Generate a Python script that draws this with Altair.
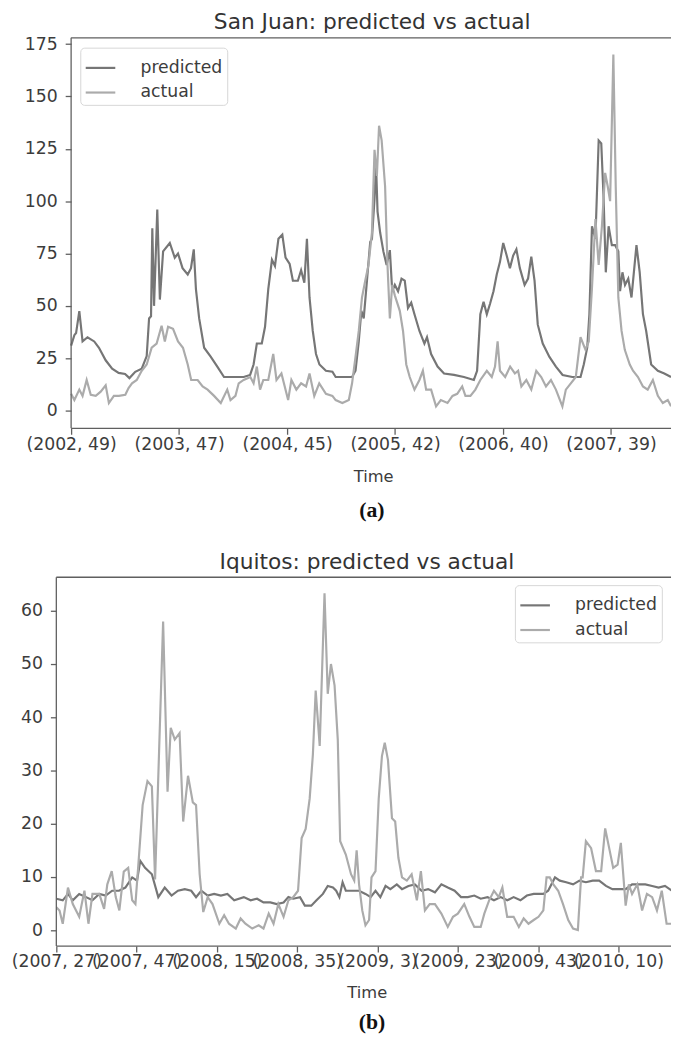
import altair as alt
import pandas as pd

# ---------------- San Juan (panel a) ----------------
sj_tick_weeks = [0, 50, 100, 150, 200, 250]
sj_tick_labels = ["(2002, 49)", "(2003, 47)", "(2004, 45)", "(2005, 42)", "(2006, 40)", "(2007, 39)"]

sj_pred_week = [0, 1.5, 2.3, 3.8, 5.3, 7.6, 10.7, 12.9, 16, 19, 22, 25, 27, 29.7, 32.7, 35, 36.1, 37, 37.6, 38.4,
                39.9, 41.1, 42.6, 45.7, 48, 49.5, 51.6, 54, 55.5, 56.8, 57.8, 59.3, 61.6, 64.7, 67.7, 70.8, 73.8,
                76.9, 79.9, 82.9, 84.5, 86, 88.3, 89.8, 91.3, 93, 94.4, 96, 97.8, 99.3, 101.2, 102.7, 105, 106.5,
                108, 109.2, 110.4, 111.9, 113.4, 115, 118, 121, 122.5, 127.1, 130.1, 131.7, 133.2, 134.4, 135.5,
                137, 138.5, 139.3, 140.5, 141.2, 141.9, 143.1, 144.6, 146.1, 147.6, 148.7, 149.9, 151.4, 153,
                154.5, 156, 157.5, 159, 161.3, 163.6, 164.8, 166.7, 169.7, 172.7, 177.3, 181.9, 186.5, 188, 189.5,
                191, 192.5, 194, 195.6, 197.1, 198.6, 200.1, 201.7, 203.2, 204.7, 206.2, 207.8, 210, 211.6, 213.1,
                214.6, 216.1, 218.4, 221.5, 224.5, 227.6, 232.1, 235.9, 237.4, 239, 240, 241.2, 242.8, 244.3,
                245.5, 246.6, 247.6, 248.9, 250.4, 251.9, 253.4, 254.2, 255.3, 256.5, 258, 259.5, 261.8, 263.3,
                264.8, 266.3, 268.6, 271.7, 274.7, 277.8]
sj_pred_value = [31, 36, 37, 47.5, 33, 35, 33, 30, 24, 20, 18, 17.5, 15.5, 18.5, 20, 26, 44, 45, 87, 50,
                 96, 53, 76, 80, 73, 75, 68, 65, 68, 77, 58, 44, 30, 25.6, 21, 16, 16,
                 16, 16, 17, 22, 32, 32, 40, 58, 72, 69, 82, 84, 73, 70, 62, 62, 67,
                 61, 82, 54, 38, 27, 22, 19, 18.5, 16, 16, 16, 19, 33, 47.6, 44,
                 62, 80.5, 82, 101, 118, 95, 85, 76, 69.5, 76.6, 57, 60, 57, 63,
                 62, 49, 51.5, 46, 38, 32, 35, 27, 21, 17.7, 17, 16, 14.6, 19, 46,
                 52, 46, 51, 57, 65, 71, 80, 74, 68, 74, 77, 68, 60, 63, 73.5,
                 62, 41, 32, 25.6, 21, 17, 16, 16, 22, 30, 46, 88, 82, 129,
                 127.6, 101, 66, 88, 79, 79, 76, 57, 66, 60, 63, 54, 79, 66,
                 46, 38, 22, 19, 17.7, 16]

sj_act_week = [0, 1.5, 3.8, 5.3, 7.2, 9.1, 11.4, 13.7, 16, 17.5, 19.8, 22.1, 25.1, 26.6, 28.2, 30.4, 32.7, 35,
               37.3, 39.6, 41.9, 43.4, 44.9, 47.2, 49.5, 51.8, 54, 55.6, 58.6, 60.9, 63.2, 66.2, 69.3, 72.3, 73.8,
               76.1, 77.6, 79.9, 83, 84.5, 86, 87.5, 89, 91.3, 93.6, 95.1, 97.4, 100.5, 102, 104.3, 106.5, 108.8,
               110.4, 112.6, 114.9, 118, 121, 122.5, 125.6, 128.6, 130.1, 131.7, 133.2, 134.7, 136.2, 137.7, 139.3,
               140.5, 141.6, 142.6, 143.8, 145.4, 146.5, 147.6, 148.7, 149.9, 152.2, 153.7, 155.2, 156.8, 159,
               161.3, 162.9, 164.4, 166.7, 169, 171.2, 174.3, 176.6, 178.8, 181.1, 182.6, 184.9, 187.2, 189.5,
               192.5, 194.8, 196.3, 197.5, 198.6, 201, 203.3, 205.5, 207, 208.5, 210.8, 213.1, 215.4, 217.7,
               219.9, 222.2, 224.5, 227.5, 229.1, 231.4, 233.7, 235.9, 238.2, 239.7, 241.2, 242.8, 244.3, 245.8,
               247.3, 248.5, 249.6, 251.1, 252.2, 253.4, 254.9, 256.4, 258.7, 260.2, 262.5, 264.8, 267, 269.4,
               271.7, 274, 276.3, 277.8]
sj_act_value = [8, 5, 10, 7, 14.6, 7.5, 7, 9, 12, 3.6, 7, 7, 7.5, 10.7, 13, 14.6, 19, 22,
                30, 32, 40.5, 33, 40, 39, 33, 30, 22, 14.6, 14.6, 11.5, 10, 7, 3.6, 10, 5,
                7, 13, 14.6, 16, 13, 21, 10, 14.6, 14.6, 27, 14.6, 17.7, 5, 14.6, 10, 13, 11.5,
                17.7, 7, 13, 8, 7, 5, 3.6, 5, 13, 25.6, 38, 54, 62, 69.5, 85,
                124.5, 112, 136, 129, 107, 69.5, 44, 60, 55, 47.6, 38, 22, 16, 10,
                14.6, 19, 10, 10, 2, 5, 3.6, 7, 8, 11.5, 7, 7, 10, 14.6,
                19, 16, 21, 33, 19, 16, 21, 17.7, 19, 11.5, 14.6, 10, 19, 16,
                11.5, 14.6, 10, 2, 10, 13, 16, 35, 29, 33, 58.5, 91.5, 69.5, 88,
                113.5, 107, 100, 170, 107, 54, 38, 29, 22, 19, 16, 11.5, 10, 14.6,
                7, 3.6, 5, 2]

# ---------------- Iquitos (panel b) ----------------
iq_tick_weeks = [0, 20, 40, 60, 80, 100, 120, 140]
iq_tick_labels = ["(2007, 27)", "(2007, 47)", "(2008, 15)", "(2008, 35)", "(2009, 3)", "(2009, 23)", "(2009, 43)", "(2010, 10)"]

iq_pred_week = [0, 1.6, 2.9, 4.1, 5.7, 7.4, 9, 10.7, 12.3, 13.9, 15.6, 17.2, 18.9, 20.1, 20.9, 22.1, 23.8, 25.4,
                27, 28.7, 30.3, 32, 33.6, 34.8, 36.1, 37.7, 39.3, 41, 42.6, 44.3, 46.7, 48.4, 50, 51.6, 53.3, 54.9,
                56.6, 57.8, 59, 60.7, 61.9, 63.5, 64.8, 66.4, 67.6, 68.9, 69.7, 70.5, 71.3, 72.1, 73.8, 75.4, 77,
                78.3, 79.5, 80.7, 82, 83.2, 84.8, 86.1, 87.7, 89.3, 91, 92.6, 94.3, 95.9, 97.5, 99.2, 100.8, 102.5,
                104.1, 105.7, 107.4, 109, 110.7, 112.3, 113.9, 115.6, 117.2, 118.9, 121.3, 122.5, 124.2, 125.4, 127,
                128.7, 130.3, 131.9, 133.6, 135.2, 136.9, 138.5, 140.2, 141.8, 143.4, 145.1, 146.7, 148.4, 150,
                151.6, 153.3]
iq_pred_value = [5.9, 5.6, 6.8, 5.6, 6.8, 6.2, 5.6, 6.8, 6.5, 7.4, 7.4, 8, 9.9, 9.3, 13, 11.7, 10.5, 6.2,
                 8, 6.5, 7.4, 7.7, 7.4, 6.2, 7.4, 6.5, 6.8, 6.5, 6.8, 5.6, 6.2, 5.6, 5.9, 5.2, 5.2, 4.9,
                 5.2, 6.2, 5.9, 6.2, 4.6, 4.6, 5.6, 6.8, 8.3, 8, 7.4, 6.2, 9, 7.4, 7.4, 7.4, 6.8,
                 6.2, 7.4, 6.2, 8.3, 7.7, 8.6, 7.7, 8.3, 8.6, 7.4, 7.7, 7.1, 8.6, 8, 7.4, 6.2, 6.2,
                 6.5, 5.9, 6.2, 5.6, 6.2, 5.6, 6.2, 5.6, 6.5, 6.8, 6.8, 7.4, 9.9, 9.3, 9,
                 8.6, 9.3, 9, 9.3, 9.3, 8.3, 7.7, 7.7, 7.7, 8.6, 8.6, 8.6, 8.3, 8,
                 8.3, 7.4]

iq_act_week = [0, 0.8, 1.6, 2.9, 4.1, 5.7, 7, 8, 9, 10.7, 11.9, 12.7, 13.8, 14.8, 15.7, 16.8, 17.9, 18.9, 19.7,
               20.5, 21.5, 22.7, 23.8, 24.6, 26.6, 27.7, 28.5, 29.5, 30.7, 31.6, 32.8, 34, 34.8, 35.7, 36.6, 37.7,
               38.9, 40.6, 41.8, 43, 44.7, 45.9, 47.1, 48.8, 50.4, 51.6, 52.9, 54.1, 55.3, 56.6, 57.8, 59, 60.2,
               61.1, 62.1, 63.1, 63.9, 64.6, 65.6, 66.8, 67.6, 68.4, 69.3, 70.1, 70.7, 72.1, 73.4, 74.2, 74.8,
               75.4, 76.2, 77, 77.9, 78.5, 79.5, 80.3, 81.1, 81.8, 82.6, 83.6, 84.4, 85.2, 86.1, 87.3, 88.5, 89.8,
               90.8, 91.8, 93, 94.3, 95.9, 97.5, 98.8, 100, 101.6, 102.9, 104.1, 105.7, 106.6, 107.8, 109, 110.2,
               111.1, 112.3, 113.9, 115.2, 116.4, 117.6, 118.9, 120.1, 121.3, 122.1, 122.9, 123.8, 125, 126.2,
               127.5, 128.7, 129.9, 130.7, 131.1, 131.9, 133.2, 134.4, 135.7, 136.7, 137.7, 138.7, 139.8, 140.6,
               141.8, 142.6, 143.4, 144.7, 145.9, 147.1, 148.4, 149.6, 150.8, 152, 153.3]
iq_act_value = [4.3, 3.7, 1.2, 8, 4.9, 2.5, 7.4, 1.2, 6.8, 6.8, 4, 8.6, 11.1, 6.2, 3.7, 11, 11.7, 5.6, 4.9,
                13, 23.5, 28, 27, 9.5, 58, 26, 38, 35.8, 37, 20.4, 29, 24, 23.5, 10.5, 3.4, 6.2,
                4.9, 1.2, 2.8, 1.2, 0.3, 2.2, 1.2, 0.3, 0.9, 0.3, 3.1, 1.2, 4.9, 2.5, 5.6, 6.2, 7.4,
                17.3, 19, 24.7, 33, 45, 34.6, 63.3, 44.4, 50, 46, 35.8, 16.7, 14.2, 10.5, 9.3, 15,
                8.6, 3.7, 0.9, 1.9, 9.9, 11.1, 24.7, 32.7, 35.2, 32, 21, 20.4, 13.6, 9.9, 9.3, 10.5, 5.6,
                11.1, 3.7, 4.9, 4.9, 3.1, 0.6, 2.5, 3.1, 4.9, 2.5, 0.6, 0.6, 3.1, 5.6, 7.4, 6.2,
                8, 2.5, 2.5, 0.6, 2.2, 1.2, 1.9, 2.5, 3.7, 9.9, 9.9, 8.6, 7.4, 4.9,
                1.9, 0.3, 0, 9.9, 9.9, 16.7, 15.4, 11.1, 11.1, 19.1, 15.4, 11.7, 12.3, 16.4,
                4.6, 8.6, 6.8, 8.6, 3.7, 6.8, 6.2, 3.7, 7.4, 1.2, 1.2]

series_names = ["predicted", "actual"]
series_colors = ["#767676", "#ababab"]

FONT = "DejaVu Sans"
TXT = "#3c3c3c"
AX = "#5f5f5f"
PLOT_W = 623.3


def label_expr(weeks, labels):
    expr = "''"
    for w, l in reversed(list(zip(weeks, labels))):
        expr = f"datum.value == {w} ? '{l}' : ({expr})"
    return expr


def text_layer(text, x, y, font, size, weight, color):
    return alt.Chart(pd.DataFrame({"t": [text]})).mark_text(
        font=font, fontSize=size, fontWeight=weight, color=color, baseline="alphabetic", align="center"
    ).encode(text="t:N", x=alt.value(x), y=alt.value(y))


def panel(title, title_x, title_y, pred_w, pred_v, act_w, act_v, tick_w, tick_l,
          x_start, x_max, y_dom, y_ticks, height, y_offset, time_x, time_y,
          leg_x, leg_y, leg_row, caption, cap_y):
    pred = pd.DataFrame({"week": pred_w, "value": pred_v, "series": "predicted"})
    act = pd.DataFrame({"week": act_w, "value": act_v, "series": "actual"})
    frame = pd.DataFrame({"x0": [0], "x1": [x_max], "y0": [y_dom[0]], "y1": [y_dom[1]]})
    xscale = alt.Scale(domain=[0, x_max], range=[x_start, PLOT_W], nice=False, zero=False)
    yscale = alt.Scale(domain=y_dom, nice=False, zero=False)
    color = alt.Color(
        "series:N",
        scale=alt.Scale(domain=series_names, range=series_colors),
        legend=alt.Legend(
            title=None, orient="none", legendX=leg_x, legendY=leg_y,
            symbolType="stroke", symbolSize=900, symbolStrokeWidth=2.2,
            labelFontSize=17.5, labelFont=FONT, labelColor=TXT, labelOffset=24,
            fillColor="white", strokeColor="#d6d6d6", cornerRadius=4,
            padding=4, rowPadding=leg_row,
        ),
    )
    x_axis = alt.Axis(values=tick_w, labelExpr=label_expr(tick_w, tick_l), title=None,
                      domain=False, ticks=True, tickColor=AX, tickWidth=1.3,
                      labelOverlap=False, labelFlush=False, tickSize=6, labelPadding=1, grid=False)
    y_axis = alt.Axis(values=y_ticks, title=None, offset=y_offset, tickSize=6, labelPadding=8, grid=False,
                      domain=False, ticks=True, tickColor=AX, tickWidth=1.3)

    def X(f):
        return alt.X(f, type="quantitative", scale=xscale, axis=x_axis)

    def Y(f):
        return alt.Y(f, type="quantitative", scale=yscale, axis=y_axis)

    l_pred = alt.Chart(pred).mark_line(clip=True, strokeWidth=2.2).encode(x=X("week"), y=Y("value"), color=color)
    l_act = alt.Chart(act).mark_line(clip=True, strokeWidth=2.2).encode(x=X("week"), y=Y("value"), color=color)
    # axes frame (spines) spanning the scales
    fr = alt.Chart(frame).mark_rule(color=AX, strokeWidth=1.3)
    s_top = fr.encode(x=X("x0"), x2="x1", y=Y("y1"))
    s_bot = fr.encode(x=X("x0"), x2="x1", y=Y("y0"))
    s_left = fr.encode(x=X("x0"), y=Y("y0"), y2="y1")
    t_title = text_layer(title, title_x, title_y, FONT, 22, "normal", "#333333")
    t_time = text_layer("Time", time_x, time_y, FONT, 16.5, "normal", TXT)
    t_cap = text_layer(caption, 320, cap_y, "Liberation Serif", 22, "bold", "#111111")
    return alt.layer(l_pred, l_act, s_top, s_bot, s_left, t_title, t_time, t_cap).properties(
        width=PLOT_W, height=height
    )


top = panel("San Juan: predicted vs actual", 320.3, -9.3,
            sj_pred_week, sj_pred_value, sj_act_week, sj_act_value, sj_tick_weeks, sj_tick_labels,
            15, 277.8, [-8.5, 178.0], [0, 25, 50, 75, 100, 125, 150, 175], 396, -15, 321.8, 450.7,
            24.3, 10, -1, "(a)", 485.7)
bottom = panel("Iquitos: predicted vs actual", 315, -8.3,
               iq_pred_week, iq_pred_value, iq_act_week, iq_act_value, iq_tick_weeks, iq_tick_labels,
               0, 153.1, [-3.0, 66.3], [0, 10, 20, 30, 40, 50, 60], 374, 0, 315.3, 426.7,
               465, 8, -2, "(b)", 458)

chart = alt.vconcat(top, bottom, spacing=30).resolve_scale(color="independent").resolve_legend(
    color="independent"
).properties(
    padding={"left": 3, "top": -5, "right": 0, "bottom": 0}
).configure_view(stroke=None).configure_axis(
    labelFont=FONT, labelFontSize=17.5, labelColor=TXT,
)

chart.save("out.html", embed_options={"renderer": "svg", "actions": False})
